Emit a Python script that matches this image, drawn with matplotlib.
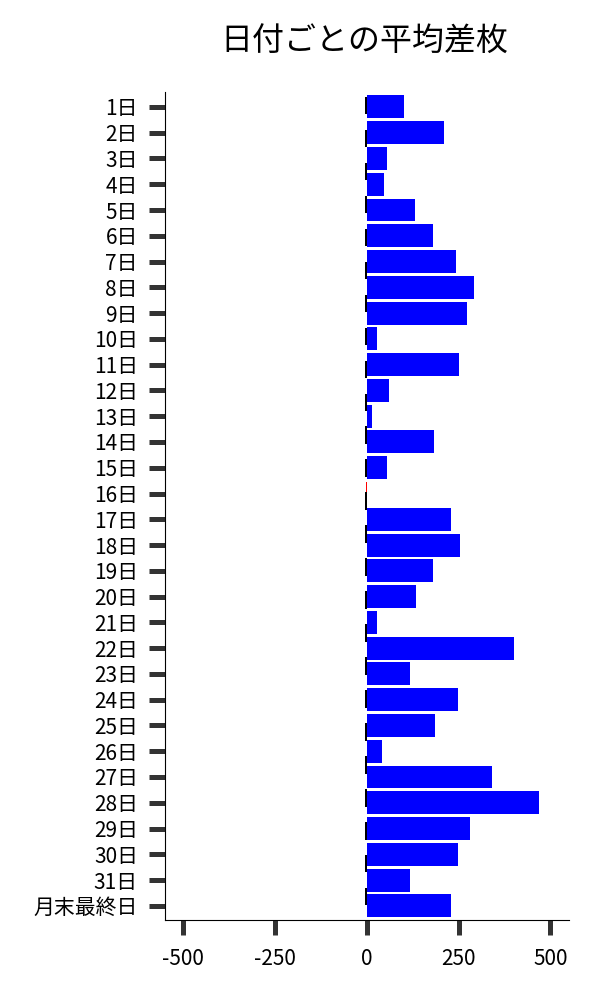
import numpy as np
import matplotlib
matplotlib.use("Agg")
import matplotlib.pyplot as plt

plt.rcParams['font.family'] = ['Noto Sans CJK JP', 'DejaVu Sans']

days = [f"{i}日" for i in range(1, 32)] + ["月末最終日"]
avg_diff = [100, 209, 54, 46, 130, 179, 242, 293, 272, 27,
            250, 60, 14, 182, 54, -2, 228, 253, 179, 133,
            27, 402, 117, 247, 185, 41, 342, 470, 280, 247,
            117, 228]
# thin dark marks near zero drawn by a second series (25 slots)
zero_marks = [-4] * 25

colors = ["blue" if v >= 0 else "red" for v in avg_diff]
y = np.arange(len(days))

fig = plt.figure(figsize=(6, 10), dpi=100)
ax = fig.add_axes([0.275, 0.08, 0.673, 0.828])

# second series on its own category scale
ax2 = ax.twinx()
ym = np.arange(len(zero_marks))
ax2.barh(ym, zero_marks, height=0.52, color="black")
ax2.set_ylim(len(zero_marks) - 0.3, -0.4)
ax2.set_yticks([])
for s in ax2.spines.values():
    s.set_visible(False)

ax.barh(y, avg_diff, height=0.89, color=colors, zorder=1)

ax.set_yticks(y)
ax.set_yticklabels(days, fontsize=15)
ax.set_ylim(len(days) - 0.45, -0.58)
ax.set_xlim(-550, 550)
ax.set_xticks([-500, -250, 0, 250, 500])
ax.set_xticklabels(["-500", "-250", "0", "250", "500"], fontsize=15)

ax.tick_params(axis="y", length=11.5, width=3.6, color="#333333", pad=8)
ax.tick_params(axis="x", length=11, width=3.6, color="#333333", pad=9)
ax.spines["top"].set_visible(False)
ax.spines["right"].set_visible(False)

fig.text(0.608, 0.958, "日付ごとの平均差枚", fontsize=23, ha="center", va="center")

fig.savefig("out.png")
